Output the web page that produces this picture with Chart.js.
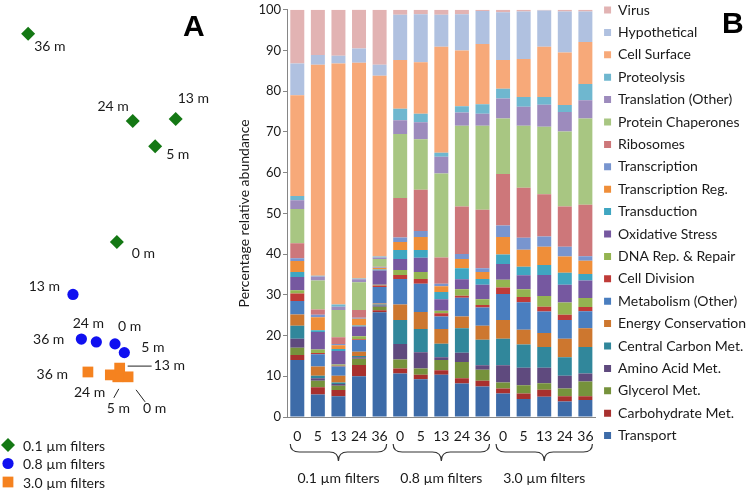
<!DOCTYPE html>
<html>
<head>
<meta charset="utf-8">
<script src="https://cdn.jsdelivr.net/npm/chart.js@4.4.1/dist/chart.umd.min.js"></script>
<style>
  body { margin: 0; background: #fff; }
  #wrap { position: relative; width: 750px; height: 492px; overflow: hidden; }
  canvas { position: absolute; top: 0; }
  #ordination { left: 0; }
  #profile { left: 230px; }
  .panel { position: absolute; font: bold 30px 'Liberation Sans', Arial, sans-serif; line-height: 30px; color: #000; }
</style>
</head>
<body>
<div id="wrap">
  <canvas id="ordination" width="230" height="492"></canvas>
  <canvas id="profile" width="520" height="492"></canvas>
  <div class="panel" style="left:183px;top:11px">A</div>
  <div class="panel" style="left:722px;top:8px">B</div>
</div>
<script>
// sampling depths (m) and filter size fractions
const depths = ['0', '5', '13', '24', '36'];
const filterSizes = ['0.1 µm filters', '0.8 µm filters', '3.0 µm filters'];

// panel A: ordination scores, one value per depth
const nmds1_01 = [0.07, 0.48, 0.70, 0.24, -0.88];
const nmds2_01 = [0.58, 1.57, 1.85, 1.83, 2.73];
const nmds1_08 = [0.05, 0.15, -0.40, -0.15, -0.31];
const nmds2_08 = [-0.47, -0.56, 0.04, -0.45, -0.42];
const nmds1_30 = [0.19, 0.08, 0.10, 0.00, -0.24];
const nmds2_30 = [-0.81, -0.81, -0.72, -0.79, -0.76];

// panel B: % relative abundance, bars = 0.1 / 0.8 / 3.0 µm x depths 0,5,13,24,36
const transport        = [14.0, 5.5, 5.1, 10.0, 25.7, 10.7, 9.3, 10.4, 8.2, 7.5, 5.8, 4.4, 5.0, 3.8, 4.2];
const carbohydrateMet  = [1.2, 1.8, 1.5, 2.8, 0.5, 1.2, 1.1, 1.1, 1.3, 1.4, 1.2, 1.4, 1.7, 1.3, 0.9];
const glycerolMet      = [1.8, 1.6, 1.1, 1.5, 0.9, 2.2, 1.5, 2.5, 4.0, 2.7, 1.5, 2.0, 1.6, 1.9, 3.6];
const aminoAcidMet     = [2.2, 0.6, 0.4, 0.4, 0.3, 3.8, 4.0, 0.7, 2.3, 1.1, 4.2, 4.3, 3.8, 3.1, 2.0];
const centralCarbonMet = [3.2, 0.6, 0.4, 0.3, 0.2, 5.9, 5.7, 3.3, 6.0, 6.3, 6.5, 5.7, 5.1, 4.6, 6.5];
const energyCons       = [2.8, 2.3, 1.6, 1.0, 0.3, 3.8, 4.2, 3.6, 2.9, 3.4, 4.6, 3.6, 3.4, 4.5, 4.6];
const metabolismOther  = [3.3, 3.0, 2.3, 2.9, 4.0, 6.3, 6.9, 3.1, 4.6, 4.5, 6.4, 6.8, 5.3, 4.6, 4.2];
const cellDivision     = [1.8, 0.3, 0.2, 0.2, 0.4, 1.0, 1.2, 0.8, 0.5, 0.6, 1.6, 1.3, 1.2, 1.3, 1.0];
const dnaRepair        = [0.8, 0.9, 0.3, 0.7, 0.2, 1.2, 1.7, 0.6, 1.6, 1.4, 1.9, 1.9, 2.6, 3.0, 2.2];
const oxidativeStress  = [3.3, 4.3, 3.3, 2.4, 3.5, 2.7, 3.5, 2.8, 2.4, 3.6, 3.9, 3.4, 5.2, 4.4, 4.3];
const transduction     = [1.2, 0.4, 0.5, 0.3, 0.2, 2.2, 1.9, 1.8, 2.7, 1.4, 2.3, 2.1, 2.4, 2.9, 1.6];
const transcriptionReg = [2.7, 3.2, 0.9, 1.6, 0.4, 2.0, 3.2, 1.4, 2.3, 1.7, 4.3, 4.2, 4.5, 4.0, 3.3];
const transcription    = [0.7, 0.6, 0.3, 0.3, 0.1, 1.1, 1.5, 0.6, 1.2, 0.9, 2.8, 2.9, 2.5, 2.4, 1.1];
const ribosomes        = [3.7, 1.3, 1.7, 1.9, 0.2, 9.7, 10.1, 6.5, 11.7, 14.4, 12.7, 12.3, 10.4, 9.9, 12.6];
const chaperones       = [8.4, 7.1, 6.7, 6.8, 1.9, 15.7, 12.4, 20.6, 19.8, 20.6, 13.6, 15.2, 16.6, 18.4, 21.2];
const translationOther = [2.1, 1.0, 0.8, 0.7, 0.4, 3.4, 4.2, 4.1, 3.3, 3.0, 4.9, 4.7, 5.4, 4.8, 4.5];
const proteolysis      = [1.1, 0.2, 0.5, 0.2, 0.2, 2.8, 2.1, 1.0, 1.5, 2.3, 2.4, 2.4, 1.9, 1.7, 4.0];
const cellSurface      = [24.7, 51.8, 59.2, 53.0, 44.4, 12.0, 12.6, 26.0, 13.7, 14.8, 7.1, 9.3, 12.3, 12.9, 10.3];
const hypothetical     = [7.8, 2.4, 1.9, 3.5, 2.7, 11.1, 11.8, 7.9, 8.9, 8.1, 11.7, 11.7, 8.9, 10.1, 7.5];
const virus            = [13.2, 11.1, 11.3, 9.6, 13.5, 1.2, 1.1, 1.2, 1.1, 0.3, 0.6, 0.4, 0.2, 0.4, 0.4];

Chart.defaults.font.family = 'Lato';
Chart.defaults.color = '#1a1a1a';

const textColor = '#1a1a1a';
const axisGrey = '#868686';

// ---------- panel A ----------
const fractions = [
  { label: filterSizes[0], x: nmds1_01, y: nmds2_01, color: '#147814', style: 'rectRot', r: 7 },
  { label: filterSizes[1], x: nmds1_08, y: nmds2_08, color: '#1010f0', style: 'circle', r: 5.6 },
  { label: filterSizes[2], x: nmds1_30, y: nmds2_30, color: '#f5821f', style: 'rect', r: 7.6 }
];

// where each depth tag sits relative to its marker: dx, dy, align, optional leader line
const tagPlacement = [
  [[15, 11, 'left'], [11, 8, 'left'], [2, -21, 'left'], [-4, -15, 'right'], [6, 13, 'left']],
  [[3, -17, 'left'], [17, -5, 'left'], [-13, -8, 'right'], [-8, -18, 'center'], [-17, 0, 'right']],
  [[15, 32, 'left', [8, 13, 17, 25]], [-11, 32, 'left', [1, 12, -4, 21]],
   [34, -3, 'left', [8, -2, 32, -2]], [-5, 18, 'right'], [-20, 3, 'right']]
];

function marker(ctx, style, r, x, y, color) {
  ctx.save();
  ctx.fillStyle = color;
  ctx.beginPath();
  if (style === 'circle') {
    ctx.arc(x, y, r, 0, Math.PI * 2);
  } else if (style === 'rectRot') {
    ctx.moveTo(x, y - r); ctx.lineTo(x + r, y); ctx.lineTo(x, y + r); ctx.lineTo(x - r, y);
    ctx.closePath();
  } else {
    const h = r * Math.SQRT1_2;
    ctx.rect(x - h, y - h, 2 * h, 2 * h);
  }
  ctx.fill();
  ctx.restore();
}

const depthTags = {
  id: 'depthTags',
  afterDatasetsDraw(chart) {
    const ctx = chart.ctx;
    ctx.save();
    ctx.font = '14px Lato';
    ctx.fillStyle = textColor;
    ctx.textBaseline = 'middle';
    ctx.strokeStyle = '#222';
    ctx.lineWidth = 1;
    chart.data.datasets.forEach((ds, di) => {
      chart.getDatasetMeta(di).data.forEach((pt, i) => {
        const p = tagPlacement[di][i];
        ctx.textAlign = p[2];
        ctx.fillText(depths[i] + ' m', pt.x + p[0], pt.y + p[1]);
        if (p[3]) {
          ctx.beginPath();
          ctx.moveTo(pt.x + p[3][0], pt.y + p[3][1]);
          ctx.lineTo(pt.x + p[3][2], pt.y + p[3][3]);
          ctx.stroke();
        }
      });
    });
    // key
    ctx.textAlign = 'left';
    fractions.forEach((f, k) => {
      const y = 445 + k * 18.5;
      marker(ctx, f.style, f.r, 8, y, f.color);
      ctx.fillStyle = textColor;
      ctx.fillText(f.label, 23, y + 1);
    });
    ctx.restore();
  }
};

new Chart(document.getElementById('ordination'), {
  type: 'scatter',
  data: {
    datasets: fractions.map(f => ({
      label: f.label,
      data: depths.map((d, i) => ({ x: f.x[i], y: f.y[i] })),
      pointStyle: f.style,
      pointRadius: f.r,
      pointBackgroundColor: f.color,
      pointBorderWidth: 0,
      clip: false
    }))
  },
  options: {
    responsive: false,
    animation: false,
    devicePixelRatio: 1,
    layout: { padding: 0 },
    scales: {
      x: { display: false, min: -1.10, max: 1.20 },
      y: { display: false, min: -1.92, max: 3.00 }
    },
    plugins: { legend: { display: false }, tooltip: { enabled: false } }
  },
  plugins: [depthTags]
});

// ---------- panel B ----------
const categories = [
  ['Transport', transport, '#3d6ba8'],
  ['Carbohydrate Met.', carbohydrateMet, '#a8302e'],
  ['Glycerol Met.', glycerolMet, '#76923c'],
  ['Amino Acid Met.', aminoAcidMet, '#5f4a7e'],
  ['Central Carbon Met.', centralCarbonMet, '#31879b'],
  ['Energy Conservation', energyCons, '#cd772f'],
  ['Metabolism (Other)', metabolismOther, '#4a7ebf'],
  ['Cell Division', cellDivision, '#bf3b38'],
  ['DNA Rep. & Repair', dnaRepair, '#94b451'],
  ['Oxidative Stress', oxidativeStress, '#7658a0'],
  ['Transduction', transduction, '#3fa6c1'],
  ['Transcription Reg.', transcriptionReg, '#ef8e39'],
  ['Transcription', transcription, '#7895cf'],
  ['Ribosomes', ribosomes, '#cd777a'],
  ['Protein Chaperones', chaperones, '#a8c682'],
  ['Translation (Other)', translationOther, '#9d8bbd'],
  ['Proteolysis', proteolysis, '#6fb7cf'],
  ['Cell Surface', cellSurface, '#f7a979'],
  ['Hypothetical', hypothetical, '#b0c1e0'],
  ['Virus', virus, '#e2b3b3']
];

const barLabels = [];
filterSizes.forEach(() => depths.forEach(d => barLabels.push(d)));

const legendNudge = {
  id: 'legendNudge',
  afterLayout(chart) {
    chart.legend.top = -5.4;
  }
};

const groupBraces = {
  id: 'groupBraces',
  afterDraw(chart) {
    const ctx = chart.ctx;
    const xs = chart.scales.x;
    const half = 7;
    const yTop = 444, yMid = 452, yTip = 461, r = 9;
    ctx.save();
    ctx.strokeStyle = '#333';
    ctx.lineWidth = 1.2;
    ctx.font = '14px Lato';
    ctx.fillStyle = textColor;
    ctx.textAlign = 'center';
    ctx.textBaseline = 'middle';
    filterSizes.forEach((name, g) => {
      const x1 = xs.getPixelForValue(g * depths.length) - half;
      const x2 = xs.getPixelForValue(g * depths.length + depths.length - 1) + half;
      const xm = (x1 + x2) / 2;
      ctx.beginPath();
      ctx.moveTo(x1, yTop);
      ctx.quadraticCurveTo(x1, yMid, x1 + r, yMid);
      ctx.lineTo(xm - r, yMid);
      ctx.quadraticCurveTo(xm, yMid, xm, yTip);
      ctx.quadraticCurveTo(xm, yMid, xm + r, yMid);
      ctx.lineTo(x2 - r, yMid);
      ctx.quadraticCurveTo(x2, yMid, x2, yTop);
      ctx.stroke();
      ctx.fillText(name, xm, 478);
    });
    ctx.restore();
  }
};

new Chart(document.getElementById('profile'), {
  type: 'bar',
  data: {
    labels: barLabels,
    datasets: categories.map(c => ({
      label: c[0],
      data: c[1],
      backgroundColor: c[2],
      borderWidth: 0,
      barPercentage: 0.68,
      categoryPercentage: 1
    }))
  },
  options: {
    responsive: false,
    animation: false,
    devicePixelRatio: 1,
    layout: { padding: { top: 5, left: 0, right: -6, bottom: 0 } },
    scales: {
      x: {
        stacked: true,
        grid: { display: false, drawTicks: false },
        border: { display: true, color: axisGrey, width: 1 },
        ticks: { autoSkip: false, maxRotation: 0, padding: 11, color: textColor, font: { size: 14 } },
        afterFit: s => { s.height = 75; }
      },
      y: {
        stacked: true,
        min: 0,
        max: 100,
        grid: { drawOnChartArea: false, color: axisGrey, tickLength: 4 },
        border: { display: true, color: axisGrey, width: 1 },
        ticks: { stepSize: 10, padding: 2, color: textColor, font: { size: 13 } },
        title: {
          display: true,
          text: 'Percentage relative abundance',
          color: textColor,
          font: { size: 14 },
          padding: { top: 6, bottom: 0 }
        },
        afterFit: s => { s.width = 57; }
      }
    },
    plugins: {
      tooltip: { enabled: false },
      legend: {
        position: 'right',
        align: 'start',
        reverse: true,
        maxWidth: 240,
        labels: {
          boxWidth: 7,
          boxHeight: 7,
          padding: 8.4,
          color: textColor,
          font: { size: 14 }
        }
      }
    }
  },
  plugins: [legendNudge, groupBraces]
});
</script>
</body>
</html>
